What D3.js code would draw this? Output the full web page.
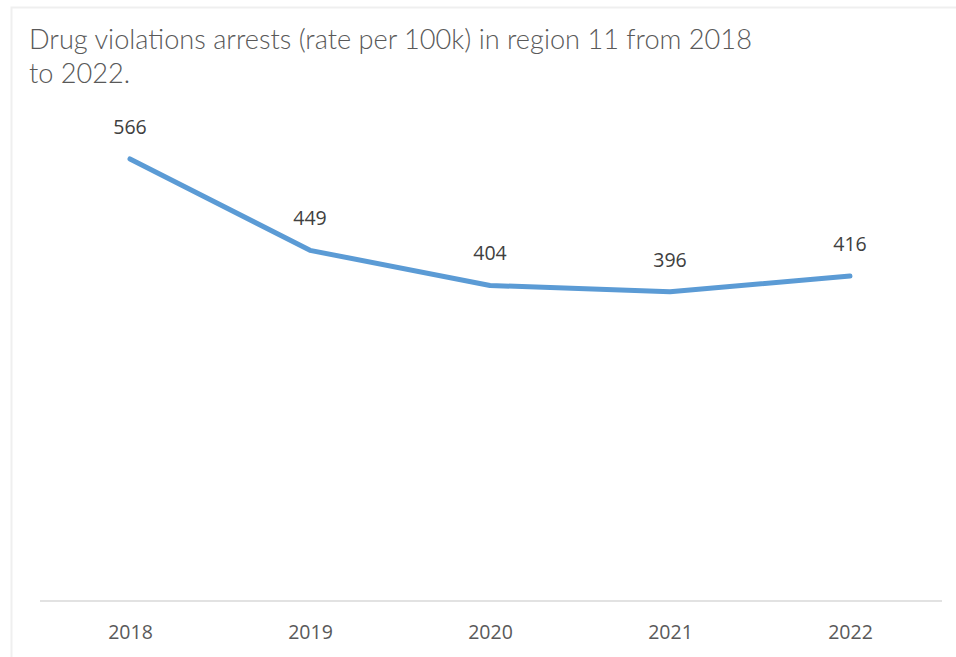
<!DOCTYPE html>
<html><head><meta charset="utf-8">
<script src="https://cdn.jsdelivr.net/npm/d3@7"></script>
<style>html,body{margin:0;padding:0;background:#fff;}</style>
</head><body>
<script>
const years = ["2018","2019","2020","2021","2022"];
const values = [566, 449, 404, 396, 416];
const titleLines = ["Drug violations arrests (rate per 100k) in region 11 from 2018", "to 2022."];

const W = 956, H = 657;
const svg = d3.select("body").append("svg").attr("width", W).attr("height", H);

svg.append("rect").attr("x", 11.5).attr("y", 7.5).attr("width", 960).attr("height", 700)
  .attr("fill", "#fff").attr("stroke", "#efefef").attr("stroke-width", 2);

const x = d3.scalePoint().domain(years).range([130, 850]);
const y = d3.scaleLinear().domain([0, 700]).range([601, 54.3]);

// title
const title = svg.append("text").attr("fill", "#595959")
  .style("font-family", "Lato, 'Open Sans', sans-serif").style("font-weight", 300).style("font-size", "24px");
titleLines.forEach((t, i) => {
  title.append("tspan").attr("x", 29).attr("y", 49 + i * 34).text(t);
});
// fit first line width to ~723px
const t0 = title.select("tspan").node().getComputedTextLength();
title.style("font-size", (24 * 723 / t0).toFixed(2) + "px");

// axis
const axis = d3.axisBottom(x).tickSize(0).tickPadding(0);
const ag = svg.append("g").attr("transform", "translate(0,601)").call(axis);
ag.select(".domain").remove();
ag.append("line").attr("x1", 40).attr("x2", 942).attr("y1", 0).attr("y2", 0)
  .attr("stroke", "#d9d9d9").attr("stroke-width", 1.5);
ag.selectAll(".tick text").attr("y", 38).attr("dy", 0)
  .attr("fill", "#595959").style("font-family", "'Open Sans', sans-serif").style("font-size", "19.5px");

// line
const line = d3.line().x((d, i) => x(years[i])).y(d => y(d));
svg.append("path").datum(values).attr("d", line).attr("fill", "none")
  .attr("stroke", "#5b9bd5").attr("stroke-width", 5).attr("stroke-linecap", "round").attr("stroke-linejoin", "round");

// labels
svg.selectAll(".lbl").data(values).enter().append("text").attr("class", "lbl")
  .attr("x", (d, i) => x(years[i])).attr("y", d => y(d) - 25)
  .attr("text-anchor", "middle").attr("fill", "#404040")
  .style("font-family", "'Open Sans', sans-serif").style("font-size", "19.5px")
  .text(d => d);
</script>
</body></html>
